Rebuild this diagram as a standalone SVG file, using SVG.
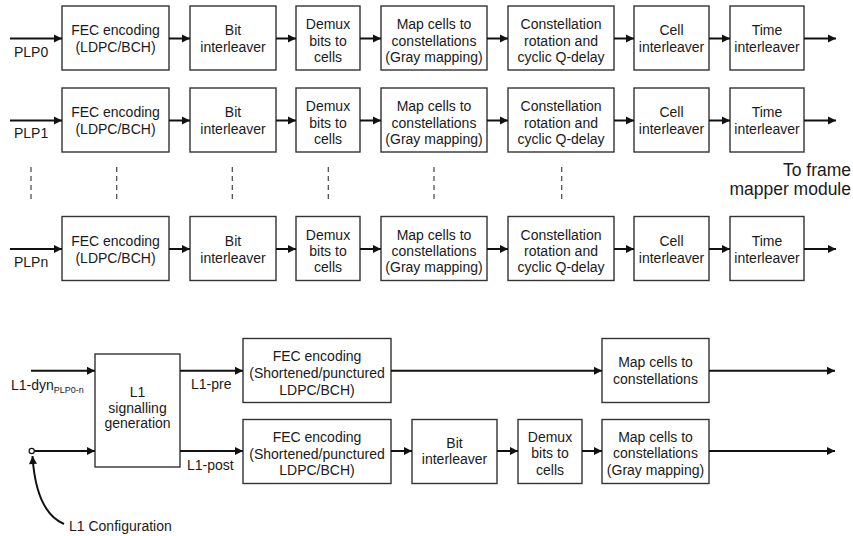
<svg xmlns="http://www.w3.org/2000/svg" width="853" height="536" viewBox="0 0 853 536">
<style>
.box{fill:#fff;stroke:#333;stroke-width:1.4}
.t{font-family:"Liberation Sans",Arial,sans-serif;font-size:14px;fill:#1a1a1a;text-anchor:middle}
.l{font-family:"Liberation Sans",Arial,sans-serif;font-size:14px;fill:#1a1a1a}
.w{stroke:#111;stroke-width:2;fill:none}
.d{stroke:#444;stroke-width:1.2;stroke-dasharray:5,4;fill:none}
</style>
<defs>
<marker id="ah" markerUnits="userSpaceOnUse" markerWidth="10" markerHeight="10" refX="9" refY="5" orient="auto">
<path d="M1,1 L9,5 L1,9 Z" fill="#111"/>
</marker>
<g id="row">
<g><rect class="box" x="62" y="6" width="107" height="64"/><text class="t" x="115.5" y="35">FEC encoding</text><text class="t" x="115.5" y="52">(LDPC/BCH)</text></g>
<g><rect class="box" x="190" y="6" width="86" height="64"/><text class="t" x="233" y="35">Bit</text><text class="t" x="233" y="52">interleaver</text></g>
<g><rect class="box" x="296" y="6" width="64" height="64"/><text class="t" x="328" y="29.3">Demux</text><text class="t" x="328" y="45.5">bits to</text><text class="t" x="328" y="61.7">cells</text></g>
<g><rect class="box" x="381" y="6" width="106" height="64"/><text class="t" x="434" y="29.3">Map cells to</text><text class="t" x="434" y="45.5">constellations</text><text class="t" x="434" y="61.7">(Gray mapping)</text></g>
<g><rect class="box" x="508" y="6" width="106" height="64"/><text class="t" x="561" y="29.3">Constellation</text><text class="t" x="561" y="45.5">rotation and</text><text class="t" x="561" y="61.7">cyclic Q-delay</text></g>
<g><rect class="box" x="634" y="6" width="75" height="64"/><text class="t" x="671.5" y="35">Cell</text><text class="t" x="671.5" y="52">interleaver</text></g>
<g><rect class="box" x="730" y="6" width="74" height="64"/><text class="t" x="767" y="35">Time</text><text class="t" x="767" y="52">interleaver</text></g>
<g class="conn">
<path class="w" d="M10,38.5 H62" marker-end="url(#ah)"/>
<path class="w" d="M169,38.5 H190" marker-end="url(#ah)"/>
<path class="w" d="M276,38.5 H296" marker-end="url(#ah)"/>
<path class="w" d="M360,38.5 H381" marker-end="url(#ah)"/>
<path class="w" d="M487,38.5 H508" marker-end="url(#ah)"/>
<path class="w" d="M614,38.5 H634" marker-end="url(#ah)"/>
<path class="w" d="M709,38.5 H730" marker-end="url(#ah)"/>
<path class="w" d="M804,38.5 H836" marker-end="url(#ah)"/>
</g>
</g>
</defs>
<g id="plp0"><use href="#row"/><text class="l" x="14" y="57">PLP0</text></g>
<g id="plp1" transform="translate(0,82)"><use href="#row"/><text class="l" x="14" y="56">PLP1</text></g>
<g id="plpn" transform="translate(0,210.5)"><use href="#row"/><text class="l" x="14" y="56">PLPn</text></g>
<g id="dashes">
<path class="d" d="M31,167 V200 M116.7,167 V200 M232.3,167 V200 M328.3,167 V200 M434,167 V200 M561.7,167 V200"/>
</g>
<g id="frame-label">
<text class="l" style="font-size:17.5px" x="851" y="176" text-anchor="end">To frame</text>
<text class="l" style="font-size:17.5px" x="851" y="195" text-anchor="end">mapper module</text>
</g>
<g id="l1gen"><rect class="box" x="95" y="354" width="85" height="113"/><text class="t" x="137.5" y="397">L1</text><text class="t" x="137.5" y="412.5">signalling</text><text class="t" x="137.5" y="428">generation</text></g>
<g id="fecpre"><rect class="box" x="243" y="338.5" width="148" height="64"/><text class="t" x="317" y="361">FEC encoding</text><text class="t" x="317" y="378">(Shortened/punctured</text><text class="t" x="317" y="395">LDPC/BCH)</text></g>
<g id="mappre"><rect class="box" x="602" y="338.5" width="107" height="64"/><text class="t" x="655.5" y="367">Map cells to</text><text class="t" x="655.5" y="384">constellations</text></g>
<g id="fecpost"><rect class="box" x="243" y="419.5" width="148" height="64"/><text class="t" x="317" y="442">FEC encoding</text><text class="t" x="317" y="458.5">(Shortened/punctured</text><text class="t" x="317" y="475">LDPC/BCH)</text></g>
<g id="bitpost"><rect class="box" x="412" y="419.5" width="85" height="64"/><text class="t" x="454.5" y="448">Bit</text><text class="t" x="454.5" y="464">interleaver</text></g>
<g id="demuxpost"><rect class="box" x="518" y="419.5" width="64" height="64"/><text class="t" x="550" y="441.5">Demux</text><text class="t" x="550" y="458">bits to</text><text class="t" x="550" y="474.5">cells</text></g>
<g id="mappost"><rect class="box" x="602" y="419.5" width="107" height="64"/><text class="t" x="655.5" y="441.5">Map cells to</text><text class="t" x="655.5" y="458">constellations</text><text class="t" x="655.5" y="474.5">(Gray mapping)</text></g>
<g id="l1labels">
<text class="l" x="11" y="390">L1-dyn<tspan style="font-size:9px" dy="3">PLP0-n</tspan></text>
<text class="l" x="191" y="389">L1-pre</text>
<text class="l" x="187" y="470">L1-post</text>
<text class="l" x="69" y="531">L1 Configuration</text>
</g>
<g id="connectors">
<path class="w" d="M31,370.7 H95" marker-end="url(#ah)"/>
<circle cx="31.7" cy="451" r="2.6" fill="#fff" stroke="#111" stroke-width="1.2"/>
<path class="w" d="M34.3,451 H95" marker-end="url(#ah)"/>
<path class="w" d="M64,524 Q36,512 32.5,456" marker-end="url(#ah)"/>
<path class="w" d="M180,370.7 H243" marker-end="url(#ah)"/>
<path class="w" d="M391,370.7 H602" marker-end="url(#ah)"/>
<path class="w" d="M709,370.7 H835" marker-end="url(#ah)"/>
<path class="w" d="M180,451 H243" marker-end="url(#ah)"/>
<path class="w" d="M391,451 H412" marker-end="url(#ah)"/>
<path class="w" d="M497,451 H518" marker-end="url(#ah)"/>
<path class="w" d="M582,451 H602" marker-end="url(#ah)"/>
<path class="w" d="M709,451 H835" marker-end="url(#ah)"/>
</g>
</svg>
